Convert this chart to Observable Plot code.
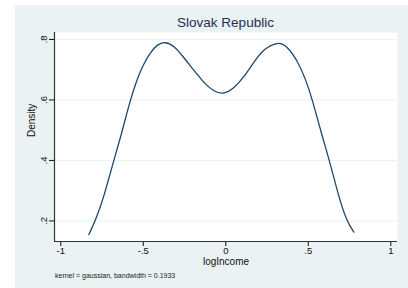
<!DOCTYPE html>
<html>
<head>
<meta charset="utf-8">
<script src="https://cdn.jsdelivr.net/npm/d3@7"></script>
<script src="https://cdn.jsdelivr.net/npm/@observablehq/plot@0.6"></script>
<style>
  html, body { margin: 0; padding: 0; background: #ffffff; }
  #wrap { position: relative; width: 408px; height: 288px; overflow: hidden; font-family: "Liberation Sans", Arial, sans-serif; }
  #bg { position: absolute; left: 15px; top: 5px; width: 393px; height: 283px; background: #eaf2f3; }
  #chart { position: absolute; left: 0; top: 0; }
  #title { position: absolute; left: 54px; width: 343px; top: 15px; text-align: center; font-size: 13.5px; color: #1e2f52; }
  #caption { position: absolute; left: 55px; top: 272px; font-size: 7px; color: #222; }
</style>
</head>
<body>
<div id="wrap">
  <div id="bg"></div>
  <div id="chart"></div>
  <div id="title">Slovak Republic</div>
  <div id="caption">kernel = gaussian, bandwidth = 0.1933</div>
</div>
<script>
const logIncome = [-0.830, -0.789, -0.739, -0.679, -0.634, -0.578, -0.537, -0.497, -0.456, -0.416, -0.370, -0.315, -0.255, -0.194, -0.133, -0.073, -0.016, 0.048, 0.109, 0.170, 0.230, 0.315, 0.372, 0.433, 0.483, 0.524, 0.580, 0.628, 0.685, 0.731, 0.776];
const density   = [0.155, 0.202, 0.279, 0.400, 0.483, 0.602, 0.670, 0.720, 0.758, 0.783, 0.793, 0.780, 0.741, 0.698, 0.657, 0.628, 0.618, 0.637, 0.675, 0.725, 0.769, 0.793, 0.778, 0.731, 0.670, 0.602, 0.488, 0.400, 0.279, 0.202, 0.163];
const xTicks = [-1, -0.5, 0, 0.5, 1];
const yTicks = [0.2, 0.4, 0.6, 0.8];

const pts = logIncome.map((x, i) => ({x, y: density[i]}));
const fmt = d => d === 0 ? "0" : String(d).replace(/^(-?)0\./, "$1.");

const chart = Plot.plot({
  width: 408,
  height: 288,
  marginLeft: 54,
  marginRight: 11,
  marginTop: 32,
  marginBottom: 47,
  style: {background: "transparent", fontFamily: "Liberation Sans, Arial, sans-serif"},
  x: {domain: [-1.038, 1.0406]},
  y: {domain: [0.132, 0.823]},
  marks: [
    Plot.frame({fill: "white", stroke: null}),
    Plot.ruleY(yTicks, {stroke: "#eaf2f3", strokeWidth: 1}),
    Plot.line(pts, {x: "x", y: "y", stroke: "#1a476f", strokeWidth: 1.3, curve: "basis"}),
    Plot.axisX(xTicks, {tickSize: 5, tickPadding: 1, tickFormat: fmt, fontSize: 9.5, color: "#111", label: null}),
    Plot.axisY(yTicks, {tickSize: 5, tickPadding: 3, tickFormat: fmt, fontSize: 9.5, color: "#111", tickRotate: -90, label: null}),
    Plot.ruleX([-1.038], {stroke: "#333", strokeWidth: 1.2}),
    Plot.ruleY([0.132], {stroke: "#333", strokeWidth: 1.2}),
    Plot.text(["logIncome"], {frameAnchor: "bottom", dy: 23, fontSize: 10, fill: "#111"}),
    Plot.text(["Density"], {frameAnchor: "left", dx: -23, rotate: -90, fontSize: 10, fill: "#111"})
  ]
});
document.getElementById("chart").appendChild(chart);
</script>
</body>
</html>
